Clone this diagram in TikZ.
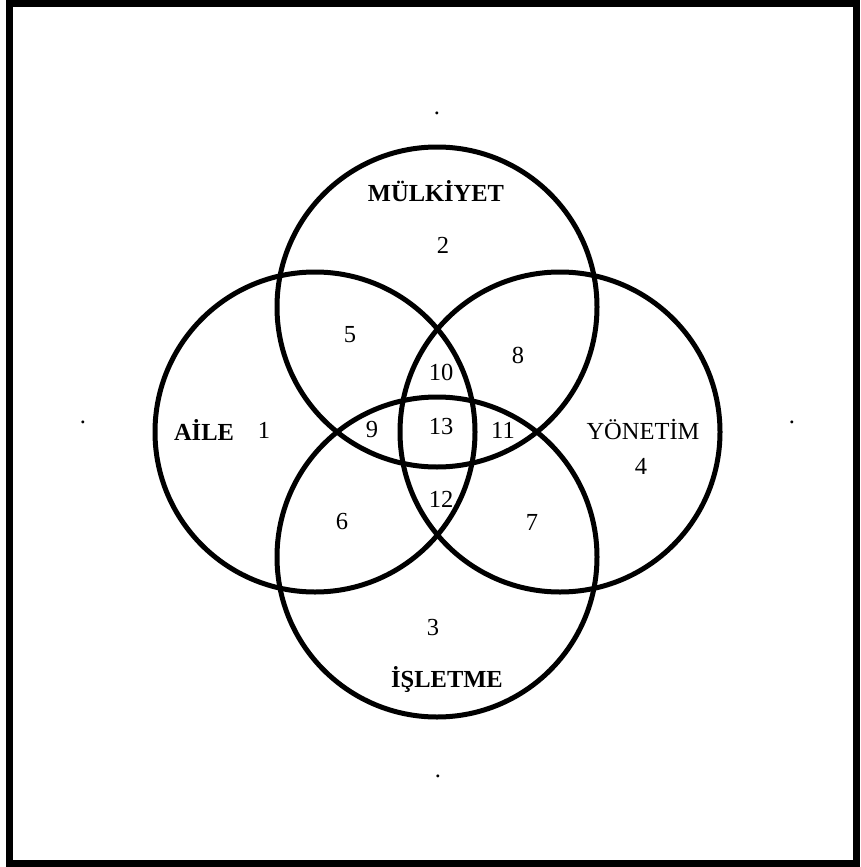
\documentclass[tikz,border=0pt]{standalone}
\usepackage{fontspec}
\setmainfont{Liberation Serif}
\usetikzlibrary{positioning}

\begin{document}
\begin{tikzpicture}[x=1pt, y=-1pt,
ring/.style={circle, draw, line width=5pt, minimum size=320pt, inner sep=0pt},
title/.style={inner sep=0pt, font=\fontsize{24.5}{28}\selectfont\bfseries},
num/.style={inner sep=0pt, font=\fontsize{24.5}{28}\selectfont},
spot/.style={inner sep=0pt, font=\fontsize{24.5}{28}\selectfont}
]
\useasboundingbox (0,0) rectangle (860,867);
\draw[line width=7pt] (9,4) rectangle (856,863);
\node[ring] (mulkiyet) at (437,307) {};
\node[ring] (isletme) at (437,557) {};
\node[ring] (aile) at (315,432) {};
\node[ring] (yonetim) at (560,432) {};
\node[title] (tmulkiyet) at (436,191) {MÜLKİYET};
\node[title] (taile) at (204,430) {AİLE};
\node[title] (tisletme) at (447,680) {İŞLETME};
\node[num] (tyonetim) at (643,430) {YÖNETİM};
\node[num] (n1) at (264,430) {1};
\node[num] (n2) at (443,245) {2};
\node[num] (n3) at (433,628) {3};
\node[num] (n4) at (641,466) {4};
\node[num] (n5) at (350,335) {5};
\node[num] (n6) at (342,522) {6};
\node[num] (n7) at (532,522) {7};
\node[num] (n8) at (518,355) {8};
\node[num] (n9) at (372,430) {9};
\node[num] (n10) at (441,372) {10};
\node[num] (n11) at (503,430) {11};
\node[num] (n12) at (441,499) {12};
\node[num] (n13) at (441,427) {13};
\node[spot] (dtop) at (437,113) {.};
\node[spot] (dleft) at (83,422) {.};
\node[spot] (dright) at (792,422) {.};
\node[spot] (dbottom) at (438,776) {.};
\end{tikzpicture}
\end{document}
